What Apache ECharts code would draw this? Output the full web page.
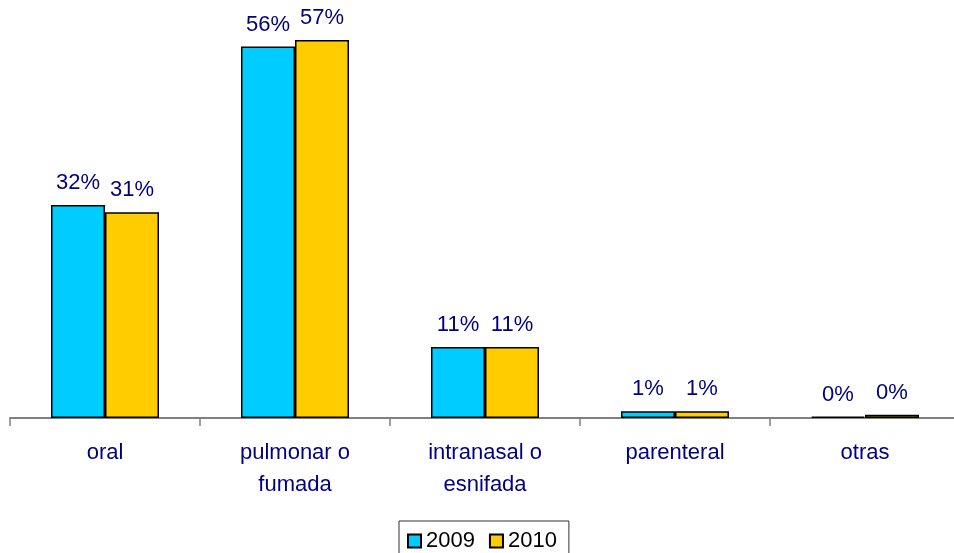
<!DOCTYPE html>
<html><head><meta charset="utf-8">
<script src="https://cdn.jsdelivr.net/npm/echarts@6/dist/echarts.min.js"></script>
<style>html,body{margin:0;padding:0;background:#fff;overflow:hidden}#c{width:960px;height:553px}</style>
</head><body><div id="c"></div>
<script>
const categories = ['oral', 'pulmonar o\nfumada', 'intranasal o\nesnifada', 'parenteral', 'otras'];
const seriesNames = ['2009', '2010'];
const values2009 = [32.1, 56.0, 10.7, 1.0, 0.2];
const values2010 = [31.0, 57.0, 10.7, 1.0, 0.49];

const chart = echarts.init(document.getElementById('c'));
const font = 'Liberation Sans, Arial, sans-serif';
const lbl = {
  show: true, position: 'top', distance: 11, color: '#000080',
  fontSize: 22, fontFamily: font,
  formatter: p => Math.round(p.value) + '%'
};
chart.setOption({
  animation: false,
  grid: { left: 10, right: 0, top: 20, bottom: 135, containLabel: false },
  legend: {
    data: seriesNames, left: 399, top: 521,
    itemWidth: 13, itemHeight: 13, itemGap: 14,
    borderColor: '#333', borderWidth: 1, padding: [9, 12, 12, 8],
    textStyle: { fontSize: 22, fontFamily: font, color: '#000' },
    icon: 'rect'
  },
  xAxis: {
    type: 'category', data: categories,
    axisLine: { lineStyle: { color: '#808080', width: 2 } },
    axisTick: { show: true, length: 8, lineStyle: { color: '#808080', width: 1.5 } },
    axisLabel: { color: '#000080', fontSize: 22, fontFamily: font, lineHeight: 32, margin: 19 }
  },
  yAxis: { type: 'value', min: 0, max: 60, show: false, splitLine: { show: false } },
  series: [
    { name: seriesNames[0], type: 'bar', data: values2009, barWidth: 54, barGap: '0%', barCategoryGap: '43%',
      itemStyle: { color: '#00CCFF', borderColor: '#000', borderWidth: 1.5 }, label: lbl },
    { name: seriesNames[1], type: 'bar', data: values2010, barWidth: 54,
      itemStyle: { color: '#FFCC00', borderColor: '#000', borderWidth: 1.5 }, label: lbl }
  ]
});
</script></body></html>
